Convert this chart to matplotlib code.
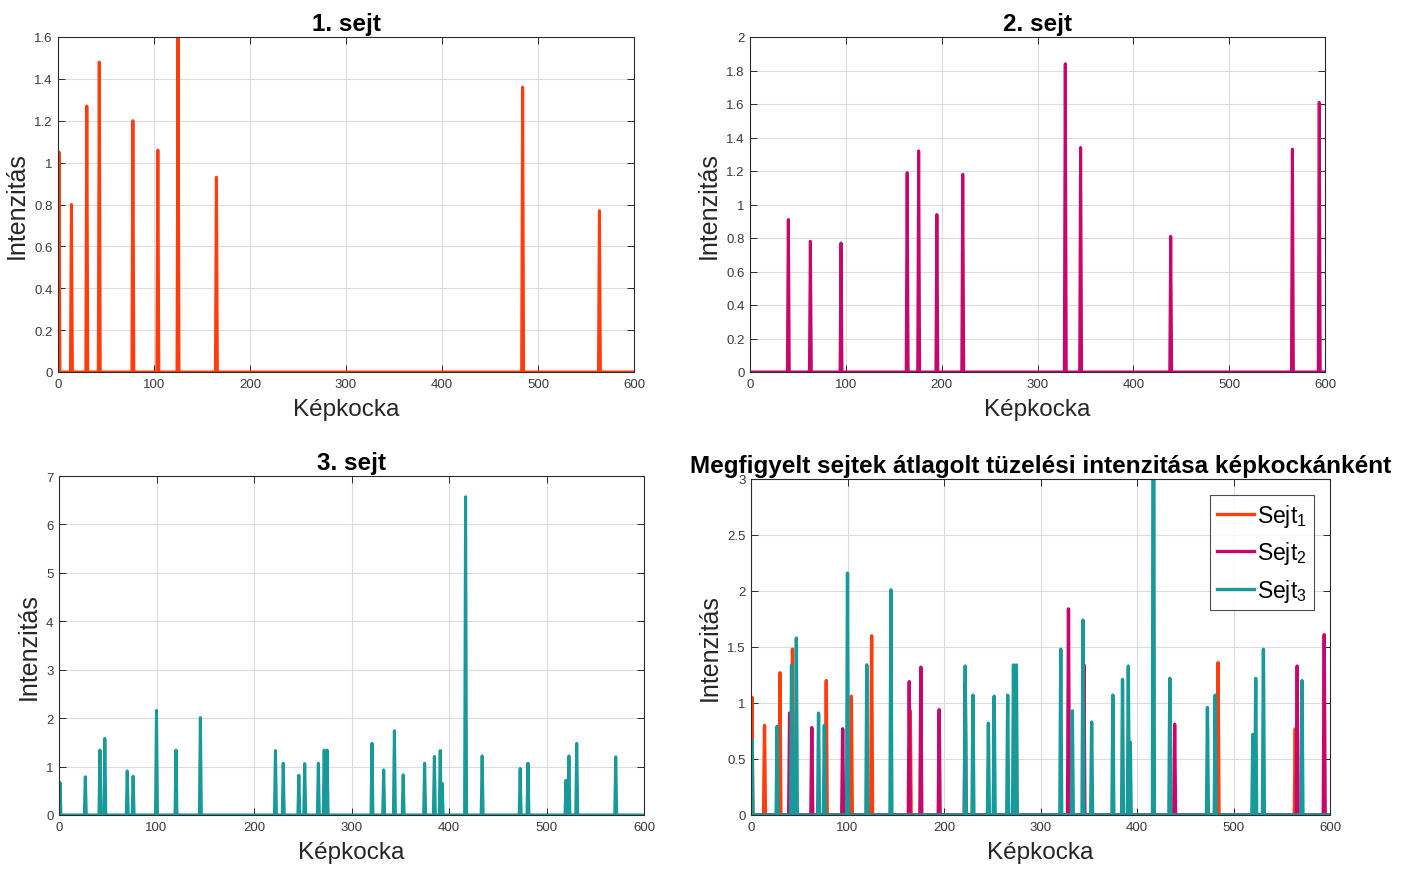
import numpy as np
import matplotlib
matplotlib.use('Agg')
import matplotlib.pyplot as plt
from matplotlib.ticker import FuncFormatter, MultipleLocator

plt.rcParams['font.family'] = ['Liberation Sans', 'DejaVu Sans']
plt.rcParams['mathtext.fontset'] = 'custom'
plt.rcParams['mathtext.rm'] = 'Liberation Sans'
plt.rcParams['mathtext.it'] = 'Liberation Sans:italic'

# ---- data ----
n_frames = 600
sejt1_frames = [1, 14, 30, 43, 78, 104, 125, 165, 484, 564]
sejt1_values = [1.05, 0.80, 1.27, 1.48, 1.20, 1.06, 1.60, 0.93, 1.36, 0.77]

sejt2_frames = [40, 63, 95, 164, 176, 195, 222, 329, 345, 439, 566, 594]
sejt2_values = [0.91, 0.78, 0.77, 1.19, 1.32, 0.94, 1.18, 1.84, 1.34, 0.81, 1.33, 1.61]

sejt3_frames = [1, 27, 42, 47, 70, 76, 100, 120, 145, 222, 230, 246, 252, 266,
                272, 275, 321, 333, 344, 353, 375, 385, 391, 393, 417, 434,
                473, 481, 520, 523, 531, 571]
sejt3_values = [0.67, 0.79, 1.34, 1.58, 0.91, 0.80, 2.16, 1.34, 2.01, 1.33, 1.07,
                0.82, 1.06, 1.07, 1.34, 1.34, 1.48, 0.93, 1.74, 0.83, 1.07, 1.21,
                1.33, 0.65, 6.57, 1.22, 0.96, 1.07, 0.72, 1.22, 1.48, 1.20]

titles = ['1. sejt', '2. sejt', '3. sejt',
          'Megfigyelt sejtek átlagolt tüzelési intenzitása képkockánként']
xlabel = 'Képkocka'
ylabel = 'Intenzitás'
legend_labels = [r'Sejt$_{\mathrm{1}}$', r'Sejt$_{\mathrm{2}}$', r'Sejt$_{\mathrm{3}}$']

c1 = '#FF3D0D'
c2 = '#C8076E'
c3 = '#18999A'


def series(fr, vals):
    y = np.zeros(n_frames + 1)
    y[np.array(fr)] = vals
    return y


x = np.arange(n_frames + 1)
y1 = series(sejt1_frames, sejt1_values)
y2 = series(sejt2_frames, sejt2_values)
y3 = series(sejt3_frames, sejt3_values)

W, H = 1411, 870
fig = plt.figure(figsize=(W / 100, H / 100), dpi=100)


def ax_at(l, t, r, b):
    return fig.add_axes([l / W, 1 - b / H, (r - l) / W, (b - t) / H])


spine_c = '#2b2b2b'
fmt = FuncFormatter(lambda v, p: '%g' % round(v, 6))


def style(ax, ymax, ystep, title):
    ax.set_xlim(0, 600)
    ax.set_ylim(0, ymax)
    ax.xaxis.set_major_locator(MultipleLocator(100))
    ax.yaxis.set_major_locator(MultipleLocator(ystep))
    ax.yaxis.set_major_formatter(fmt)
    ax.grid(True, color='#dcdcdc', lw=0.8)
    ax.set_axisbelow(True)
    for s in ax.spines.values():
        s.set_color(spine_c)
        s.set_linewidth(0.8)
    ax.tick_params(direction='in', top=True, right=True, length=5, width=0.7,
                   color=spine_c, labelsize=9.5, labelcolor='#3a3a3a', pad=4)
    ax.set_title(title, fontsize=17.5, fontweight='bold', pad=5)
    ax.set_xlabel(xlabel, fontsize=17.5, color='#262626', labelpad=6)
    ax.set_ylabel(ylabel, fontsize=18, color='#262626', labelpad=4)


lw = 2.2
ax1 = ax_at(58, 38, 634, 373)
ax1.plot(x, y1, color=c1, lw=lw)
style(ax1, 1.6, 0.2, titles[0])

ax2 = ax_at(750, 38, 1325, 373)
ax2.plot(x, y2, color=c2, lw=lw)
style(ax2, 2.0, 0.2, titles[1])

ax3 = ax_at(59, 477, 644, 816)
ax3.plot(x, y3, color=c3, lw=lw)
style(ax3, 7, 1, titles[2])

ax4 = ax_at(751, 480, 1330, 816)
ax4.plot(x, y1, color=c1, lw=2.4, label=legend_labels[0])
ax4.plot(x, y2, color=c2, lw=2.4, label=legend_labels[1])
ax4.plot(x, y3, color=c3, lw=2.4, label=legend_labels[2])
style(ax4, 3, 0.5, titles[3])
leg = ax4.legend(loc='upper right', fontsize=16.5, frameon=True, fancybox=False,
                 edgecolor='#222222', handlelength=1.6, handletextpad=0.15,
                 borderpad=0.3, labelspacing=0.45, borderaxespad=0.7)
leg.get_frame().set_linewidth(0.8)

fig.savefig('out.png', dpi=100, facecolor='white')
